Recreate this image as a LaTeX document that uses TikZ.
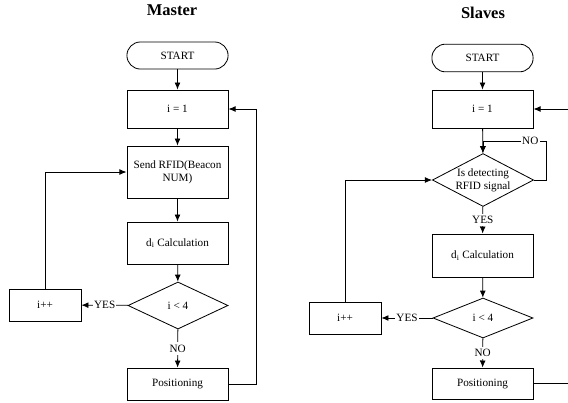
\documentclass[tikz,border=0pt]{standalone}
\usepackage{fontspec}
\setmainfont{Liberation Serif}
\usetikzlibrary{shapes.geometric, arrows.meta}

\tikzstyle{box}=[draw, rectangle, line width=0.7pt, minimum width=86pt, inner sep=1pt, align=center, font=\fontsize{9.5}{11}\selectfont]
\tikzstyle{term}=[box, rounded corners=11.5pt, minimum height=23.5pt]
\tikzstyle{decision}=[box, diamond, aspect=2, inner sep=0pt, minimum width=85pt]
\tikzstyle{lbl}=[fill=white, inner xsep=1pt, inner ysep=2pt, font=\fontsize{9.5}{11}\selectfont]
\tikzstyle{title}=[font=\fontsize{14}{16}\selectfont\bfseries]
\tikzstyle{flow}=[line width=0.7pt, -{Latex[length=6pt, width=5pt]}]

\begin{document}
\begin{tikzpicture}[x=0.85pt, y=-0.85pt]
\useasboundingbox (0,0) rectangle (568,402);

% master side
\node[title] (tm) at (172,10) {Master};
\node[term, minimum height=23pt] (startm) at (177.5,55.5) {START};
\node[box, minimum height=32.3pt] (i1m) at (177.5,109) {i = 1};
\node[box, minimum height=44.2pt] (sendm) at (177.5,172) {Send RFID(Beacon\\NUM)};
\node[box, minimum height=35.7pt] (calcm) at (177.5,243) {d\textsubscript{i} Calculation};
\node[decision, minimum height=40pt] (testm) at (178,305.5) {i \textless{} 4};
\node[box, minimum width=61.2pt, minimum height=27.2pt] (incm) at (45,305) {i++};
\node[box, minimum height=27.2pt] (posm) at (177.5,384) {Positioning};

\draw[flow] (startm) -- (i1m);
\draw[flow] (i1m) -- (sendm);
\draw[flow] (sendm) -- (calcm);
\draw[flow] (calcm) -- (testm);
\draw[flow] (testm) -- node[lbl] {YES} (incm);
\draw[flow] (testm) -- node[lbl] {NO} (posm);
\draw[flow] (incm.north) |- (sendm.west);
\draw[flow] (posm.east) -- ++(28,0) |- (i1m.east);

% slaves side
\node[title] (ts) at (483,13) {Slaves};
\node[term] (starts) at (482.5,58) {START};
\node[box, minimum height=32.3pt] (i1s) at (482.5,109) {i = 1};
\node[decision, minimum height=45pt] (detect) at (483,180) {Is detecting\\RFID signal};
\node[box, minimum height=36.6pt] (calcs) at (482.5,255.5) {d\textsubscript{i} Calculation};
\node[decision, minimum height=34pt] (tests) at (483,318) {i \textless{} 4};
\node[box, minimum width=61.2pt, minimum height=27.2pt] (incs) at (345,318) {i++};
\node[box, minimum height=26.4pt] (poss) at (482.5,383.5) {Positioning};
\coordinate (nos) at (546,141);
\coordinate (outa) at (580,383.5);
\coordinate (outb) at (580,109);

\draw[flow] (starts) -- (i1s);
\draw[flow] (i1s) -- (detect);
\draw[flow] (detect.east) -| (nos) -- node[lbl, pos=0.25] {NO} (detect.north |- nos) -- (detect.north);
\draw[flow] (detect) -- node[lbl] {YES} (calcs);
\draw[flow] (calcs) -- (tests);
\draw[flow] (tests) -- node[lbl] {YES} (incs);
\draw[flow] (tests) -- node[lbl] {NO} (poss);
\draw[flow] (incs.north) |- (detect.west);
\draw[line width=0.7pt] (poss.east) -- (outa);
\draw[flow] (outb) -- (i1s.east);

\end{tikzpicture}
\end{document}
